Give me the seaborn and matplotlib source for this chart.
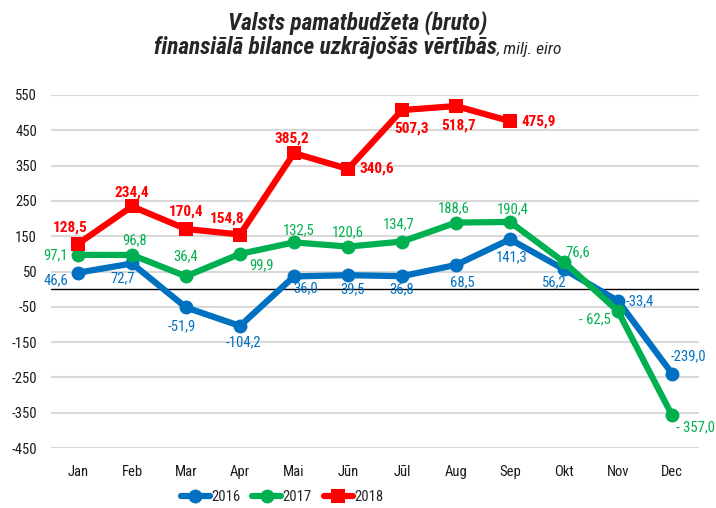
import matplotlib
matplotlib.use("Agg")
import matplotlib.pyplot as plt
from matplotlib import font_manager
import seaborn as sns
import pandas as pd

months = ["Jan", "Feb", "Mar", "Apr", "Mai", "Jūn", "Jūl", "Aug", "Sep", "Okt", "Nov", "Dec"]
vals_2016 = [46.6, 72.7, -51.9, -104.2, 36.0, 39.5, 36.8, 68.5, 141.3, 56.2, -33.4, -239.0]
vals_2017 = [97.1, 96.8, 36.4, 99.9, 132.5, 120.6, 134.7, 188.6, 190.4, 76.6, -62.5, -357.0]
vals_2018 = [128.5, 234.4, 170.4, 154.8, 385.2, 340.6, 507.3, 518.7, 475.9]
labels_2016 = ["46,6", "72,7", "-51,9", "-104,2", "36,0", "39,5", "36,8", "68,5", "141,3", "56,2", "-33,4", "-239,0"]
labels_2017 = ["97,1", "96,8", "36,4", "99,9", "132,5", "120,6", "134,7", "188,6", "190,4", "76,6", "- 62,5", "- 357,0"]
labels_2018 = ["128,5", "234,4", "170,4", "154,8", "385,2", "340,6", "507,3", "518,7", "475,9"]
yticks = [550, 450, 350, 250, 150, 50, -50, -150, -250, -350, -450]

colors = {"2016": "#0070C0", "2017": "#00B050", "2018": "#FF0000"}

sns.set_theme(style="white")
names = {f.name for f in font_manager.fontManager.ttflist}
base_font = "Liberation Sans"
for cand in ["Liberation Sans Narrow", "Roboto Condensed", "Open Sans Condensed"]:
    if cand in names:
        base_font = cand
        break
plt.rcParams["font.family"] = [base_font, "DejaVu Sans"]

rows = []
for year, vals in [("2016", vals_2016), ("2017", vals_2017), ("2018", vals_2018)]:
    for i, v in enumerate(vals):
        rows.append({"x": i, "value": v, "year": year})
df = pd.DataFrame(rows)

fig = plt.figure(figsize=(7.16, 5.08), dpi=100)
ax = fig.add_axes([51 / 716, 1 - 448 / 508, 648 / 716, 353 / 508])

sns.lineplot(data=df, x="x", y="value", hue="year", style="year",
             palette=colors, markers={"2016": "o", "2017": "o", "2018": "s"},
             dashes=False, linewidth=4.5, markersize=10, markeredgewidth=0,
             ax=ax, clip_on=False)

ax.set_xlim(-0.5, 11.5)
ax.set_ylim(-450, 550)
ax.set_yticks(yticks)
ax.set_yticklabels([str(t) for t in yticks])
ax.set_xticks(range(12))
ax.set_xticklabels(months)
ax.tick_params(axis="y", length=0, pad=10, labelsize=10.5, labelcolor="#1A1A1A")
ax.tick_params(axis="x", length=0, pad=12, labelsize=10.5, labelcolor="#1A1A1A")
ax.set_xlabel("")
ax.set_ylabel("")
for s in ax.spines.values():
    s.set_visible(False)
ax.grid(axis="y", color="#D9D9D9", linewidth=1.5)
ax.set_axisbelow(True)
ax.axhline(0, color="black", linewidth=1, zorder=1.5)

# label offsets in pixels (dx right, dy down)
off_2016 = [(-22, 8), (-9, 15), (-4, 19), (3, 16), (12, 12), (5, 14), (0, 13),
            (6, 17), (2, 18), (-10, 13), (22, 0), (16, -17)]
off_2017 = [(-23, 0), (3, -15), (0, -20), (21, 11), (5, -12), (0, -14), (-3, -17),
            (-2, -14), (3, -13), (14, -10), (-23, 8), (23, 12)]
off_2018 = [(-8, -16), (0, -14), (0, -17), (-13, -16), (-2, -15), (29, 0), (10, 18),
            (3, 19), (29, 0)]

for year, vals, labs, offs, bold in [("2016", vals_2016, labels_2016, off_2016, False),
                                     ("2017", vals_2017, labels_2017, off_2017, False),
                                     ("2018", vals_2018, labels_2018, off_2018, True)]:
    for i, (v, lab, (dx, dy)) in enumerate(zip(vals, labs, offs)):
        ax.annotate(lab, (i, v), xytext=(dx, -dy), textcoords="offset pixels",
                    ha="center", va="center", fontsize=11 if bold else 10.5,
                    color=colors[year], fontweight="bold" if bold else "normal",
                    zorder=5, annotation_clip=False)

handles, labels = ax.get_legend_handles_labels()
ax.legend(handles, labels, loc="center", bbox_to_anchor=(282 / 716, 1 - 497 / 508),
          bbox_transform=fig.transFigure, ncol=3, frameon=False, fontsize=10.5,
          handlelength=2.0, handletextpad=0.1, columnspacing=0.8)

fig.text(0.5, 1 - 30 / 508, "Valsts pamatbudžeta (bruto)", ha="center", va="baseline",
         fontsize=16.8, fontweight="bold", fontstyle="italic")
renderer = fig.canvas.get_renderer()
t1 = fig.text(0, 1 - 54 / 508, "finansiālā bilance uzkrājošās vērtībās", ha="left",
              va="baseline", fontsize=16.8, fontweight="bold", fontstyle="italic")
t2 = fig.text(0, 1 - 54 / 508, ", milj. eiro", ha="left", va="baseline",
              fontsize=12.5, fontstyle="italic")
w1 = t1.get_window_extent(renderer).width
w2 = t2.get_window_extent(renderer).width
start = (716 - (w1 + w2)) / 2
t1.set_x(start / 716)
t2.set_x((start + w1) / 716)

fig.savefig("out.png", dpi=100)
